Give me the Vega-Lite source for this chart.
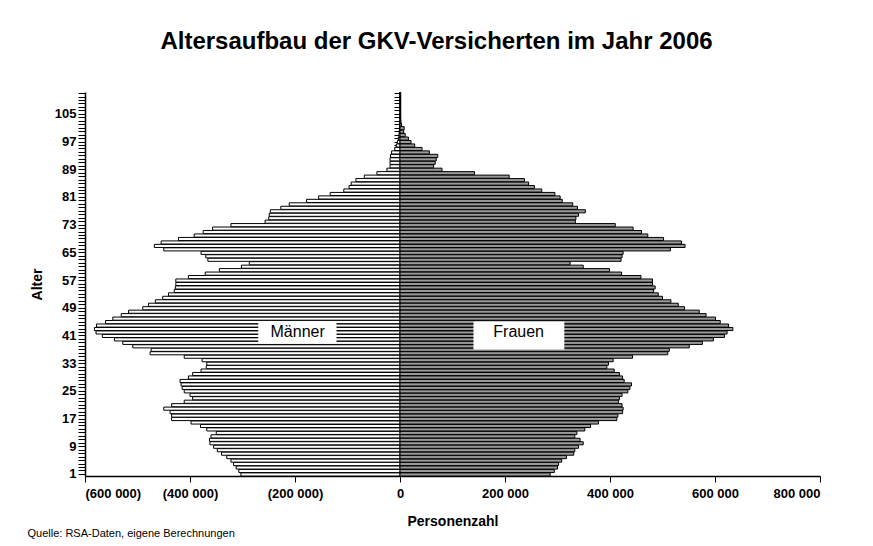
{
  "$schema": "https://vega.github.io/schema/vega-lite/v6.json",
  "width": 735,
  "height": 384,
  "autosize": {"type": "none"},
  "padding": {"left": 85, "top": 92, "right": 53, "bottom": 70},
  "background": "white",
  "title": {
    "text": "Altersaufbau der GKV-Versicherten im Jahr 2006",
    "font": "Liberation Sans",
    "fontSize": 24,
    "fontWeight": "bold",
    "color": "black",
    "anchor": "middle",
    "baseline": "alphabetic",
    "offset": 43,
    "dx": -16,
    "dy": 29
  },
  "config": {
    "view": {"stroke": null},
    "font": "Liberation Sans",
    "axis": {
      "labelFont": "Liberation Sans",
      "titleFont": "Liberation Sans",
      "labelColor": "black",
      "titleColor": "black",
      "domainColor": "black",
      "tickColor": "black",
      "grid": false
    }
  },
  "datasets": {
    "pop": [
      {"age": 1, "sex": "M", "value": -303000}, {"age": 2, "sex": "M", "value": -307000}, {"age": 3, "sex": "M", "value": -312000}, {"age": 4, "sex": "M", "value": -317000}, {"age": 5, "sex": "M", "value": -322000},
      {"age": 6, "sex": "M", "value": -330000}, {"age": 7, "sex": "M", "value": -340000}, {"age": 8, "sex": "M", "value": -348000}, {"age": 9, "sex": "M", "value": -355000}, {"age": 10, "sex": "M", "value": -362000},
      {"age": 11, "sex": "M", "value": -363000}, {"age": 12, "sex": "M", "value": -360000}, {"age": 13, "sex": "M", "value": -350000}, {"age": 14, "sex": "M", "value": -368000}, {"age": 15, "sex": "M", "value": -380000},
      {"age": 16, "sex": "M", "value": -398000}, {"age": 17, "sex": "M", "value": -435000}, {"age": 18, "sex": "M", "value": -435000}, {"age": 19, "sex": "M", "value": -438000}, {"age": 20, "sex": "M", "value": -450000},
      {"age": 21, "sex": "M", "value": -435000}, {"age": 22, "sex": "M", "value": -411000}, {"age": 23, "sex": "M", "value": -395000}, {"age": 24, "sex": "M", "value": -400000}, {"age": 25, "sex": "M", "value": -411000},
      {"age": 26, "sex": "M", "value": -415000}, {"age": 27, "sex": "M", "value": -417000}, {"age": 28, "sex": "M", "value": -419000}, {"age": 29, "sex": "M", "value": -403000}, {"age": 30, "sex": "M", "value": -395000},
      {"age": 31, "sex": "M", "value": -379000}, {"age": 32, "sex": "M", "value": -369000}, {"age": 33, "sex": "M", "value": -368000}, {"age": 34, "sex": "M", "value": -377000}, {"age": 35, "sex": "M", "value": -411000},
      {"age": 36, "sex": "M", "value": -476000}, {"age": 37, "sex": "M", "value": -474000}, {"age": 38, "sex": "M", "value": -509000}, {"age": 39, "sex": "M", "value": -528000}, {"age": 40, "sex": "M", "value": -544000},
      {"age": 41, "sex": "M", "value": -567000}, {"age": 42, "sex": "M", "value": -579000}, {"age": 43, "sex": "M", "value": -582000}, {"age": 44, "sex": "M", "value": -578000}, {"age": 45, "sex": "M", "value": -561000},
      {"age": 46, "sex": "M", "value": -547000}, {"age": 47, "sex": "M", "value": -531000}, {"age": 48, "sex": "M", "value": -517000}, {"age": 49, "sex": "M", "value": -490000}, {"age": 50, "sex": "M", "value": -479000},
      {"age": 51, "sex": "M", "value": -466000}, {"age": 52, "sex": "M", "value": -452000}, {"age": 53, "sex": "M", "value": -441000}, {"age": 54, "sex": "M", "value": -430000}, {"age": 55, "sex": "M", "value": -428000},
      {"age": 56, "sex": "M", "value": -427000}, {"age": 57, "sex": "M", "value": -427000}, {"age": 58, "sex": "M", "value": -403000}, {"age": 59, "sex": "M", "value": -371000}, {"age": 60, "sex": "M", "value": -344000},
      {"age": 61, "sex": "M", "value": -302000}, {"age": 62, "sex": "M", "value": -287000}, {"age": 63, "sex": "M", "value": -366000}, {"age": 64, "sex": "M", "value": -370000}, {"age": 65, "sex": "M", "value": -379000},
      {"age": 66, "sex": "M", "value": -450000}, {"age": 67, "sex": "M", "value": -468000}, {"age": 68, "sex": "M", "value": -455000}, {"age": 69, "sex": "M", "value": -422000}, {"age": 70, "sex": "M", "value": -392000},
      {"age": 71, "sex": "M", "value": -375000}, {"age": 72, "sex": "M", "value": -357000}, {"age": 73, "sex": "M", "value": -322000}, {"age": 74, "sex": "M", "value": -257000}, {"age": 75, "sex": "M", "value": -250000},
      {"age": 76, "sex": "M", "value": -249000}, {"age": 77, "sex": "M", "value": -247000}, {"age": 78, "sex": "M", "value": -227000}, {"age": 79, "sex": "M", "value": -211000}, {"age": 80, "sex": "M", "value": -178000},
      {"age": 81, "sex": "M", "value": -155000}, {"age": 82, "sex": "M", "value": -133000}, {"age": 83, "sex": "M", "value": -107000}, {"age": 84, "sex": "M", "value": -97000}, {"age": 85, "sex": "M", "value": -93000},
      {"age": 86, "sex": "M", "value": -84000}, {"age": 87, "sex": "M", "value": -68000}, {"age": 88, "sex": "M", "value": -44000}, {"age": 89, "sex": "M", "value": -25000}, {"age": 90, "sex": "M", "value": -19000},
      {"age": 91, "sex": "M", "value": -19000}, {"age": 92, "sex": "M", "value": -19000}, {"age": 93, "sex": "M", "value": -18000}, {"age": 94, "sex": "M", "value": -16000}, {"age": 95, "sex": "M", "value": -10000},
      {"age": 96, "sex": "M", "value": -7000}, {"age": 97, "sex": "M", "value": -5000}, {"age": 98, "sex": "M", "value": -3000}, {"age": 99, "sex": "M", "value": -2000}, {"age": 100, "sex": "M", "value": -1500},
      {"age": 101, "sex": "M", "value": -1000}, {"age": 102, "sex": "M", "value": -600}, {"age": 103, "sex": "M", "value": -400}, {"age": 104, "sex": "M", "value": -300}, {"age": 105, "sex": "M", "value": -200},
      {"age": 106, "sex": "M", "value": -100}, {"age": 107, "sex": "M", "value": -100}, {"age": 108, "sex": "M", "value": -50}, {"age": 109, "sex": "M", "value": -50}, {"age": 110, "sex": "M", "value": -20},
      {"age": 111, "sex": "M", "value": -20},
      {"age": 1, "sex": "F", "value": 286000}, {"age": 2, "sex": "F", "value": 294000}, {"age": 3, "sex": "F", "value": 300000}, {"age": 4, "sex": "F", "value": 302000}, {"age": 5, "sex": "F", "value": 308000},
      {"age": 6, "sex": "F", "value": 317000}, {"age": 7, "sex": "F", "value": 331000}, {"age": 8, "sex": "F", "value": 333000}, {"age": 9, "sex": "F", "value": 340000}, {"age": 10, "sex": "F", "value": 349000},
      {"age": 11, "sex": "F", "value": 343000}, {"age": 12, "sex": "F", "value": 333000}, {"age": 13, "sex": "F", "value": 337000}, {"age": 14, "sex": "F", "value": 352000}, {"age": 15, "sex": "F", "value": 363000},
      {"age": 16, "sex": "F", "value": 378000}, {"age": 17, "sex": "F", "value": 413000}, {"age": 18, "sex": "F", "value": 415000}, {"age": 19, "sex": "F", "value": 424000}, {"age": 20, "sex": "F", "value": 425000},
      {"age": 21, "sex": "F", "value": 423000}, {"age": 22, "sex": "F", "value": 416000}, {"age": 23, "sex": "F", "value": 418000}, {"age": 24, "sex": "F", "value": 423000}, {"age": 25, "sex": "F", "value": 434000},
      {"age": 26, "sex": "F", "value": 438000}, {"age": 27, "sex": "F", "value": 441000}, {"age": 28, "sex": "F", "value": 427000}, {"age": 29, "sex": "F", "value": 424000}, {"age": 30, "sex": "F", "value": 418000},
      {"age": 31, "sex": "F", "value": 408000}, {"age": 32, "sex": "F", "value": 394000}, {"age": 33, "sex": "F", "value": 397000}, {"age": 34, "sex": "F", "value": 406000}, {"age": 35, "sex": "F", "value": 443000},
      {"age": 36, "sex": "F", "value": 510000}, {"age": 37, "sex": "F", "value": 513000}, {"age": 38, "sex": "F", "value": 551000}, {"age": 39, "sex": "F", "value": 576000}, {"age": 40, "sex": "F", "value": 597000},
      {"age": 41, "sex": "F", "value": 618000}, {"age": 42, "sex": "F", "value": 623000}, {"age": 43, "sex": "F", "value": 634000}, {"age": 44, "sex": "F", "value": 626000}, {"age": 45, "sex": "F", "value": 610000},
      {"age": 46, "sex": "F", "value": 601000}, {"age": 47, "sex": "F", "value": 583000}, {"age": 48, "sex": "F", "value": 570000}, {"age": 49, "sex": "F", "value": 542000}, {"age": 50, "sex": "F", "value": 530000},
      {"age": 51, "sex": "F", "value": 516000}, {"age": 52, "sex": "F", "value": 500000}, {"age": 53, "sex": "F", "value": 492000}, {"age": 54, "sex": "F", "value": 483000}, {"age": 55, "sex": "F", "value": 486000},
      {"age": 56, "sex": "F", "value": 481000}, {"age": 57, "sex": "F", "value": 481000}, {"age": 58, "sex": "F", "value": 459000}, {"age": 59, "sex": "F", "value": 422000}, {"age": 60, "sex": "F", "value": 399000},
      {"age": 61, "sex": "F", "value": 349000}, {"age": 62, "sex": "F", "value": 324000}, {"age": 63, "sex": "F", "value": 421000}, {"age": 64, "sex": "F", "value": 423000}, {"age": 65, "sex": "F", "value": 425000},
      {"age": 66, "sex": "F", "value": 515000}, {"age": 67, "sex": "F", "value": 543000}, {"age": 68, "sex": "F", "value": 536000}, {"age": 69, "sex": "F", "value": 502000}, {"age": 70, "sex": "F", "value": 472000},
      {"age": 71, "sex": "F", "value": 460000}, {"age": 72, "sex": "F", "value": 444000}, {"age": 73, "sex": "F", "value": 410000}, {"age": 74, "sex": "F", "value": 334000}, {"age": 75, "sex": "F", "value": 335000},
      {"age": 76, "sex": "F", "value": 340000}, {"age": 77, "sex": "F", "value": 353000}, {"age": 78, "sex": "F", "value": 338000}, {"age": 79, "sex": "F", "value": 329000}, {"age": 80, "sex": "F", "value": 309000},
      {"age": 81, "sex": "F", "value": 305000}, {"age": 82, "sex": "F", "value": 295000}, {"age": 83, "sex": "F", "value": 270000}, {"age": 84, "sex": "F", "value": 256000}, {"age": 85, "sex": "F", "value": 245000},
      {"age": 86, "sex": "F", "value": 237000}, {"age": 87, "sex": "F", "value": 208000}, {"age": 88, "sex": "F", "value": 142000}, {"age": 89, "sex": "F", "value": 80000}, {"age": 90, "sex": "F", "value": 64000},
      {"age": 91, "sex": "F", "value": 67000}, {"age": 92, "sex": "F", "value": 69000}, {"age": 93, "sex": "F", "value": 72000}, {"age": 94, "sex": "F", "value": 56000}, {"age": 95, "sex": "F", "value": 42000},
      {"age": 96, "sex": "F", "value": 28000}, {"age": 97, "sex": "F", "value": 21000}, {"age": 98, "sex": "F", "value": 16000}, {"age": 99, "sex": "F", "value": 10000}, {"age": 100, "sex": "F", "value": 7000},
      {"age": 101, "sex": "F", "value": 8000}, {"age": 102, "sex": "F", "value": 3000}, {"age": 103, "sex": "F", "value": 1500}, {"age": 104, "sex": "F", "value": 800}, {"age": 105, "sex": "F", "value": 500},
      {"age": 106, "sex": "F", "value": 300}, {"age": 107, "sex": "F", "value": 200}, {"age": 108, "sex": "F", "value": 100}, {"age": 109, "sex": "F", "value": 50}, {"age": 110, "sex": "F", "value": 30},
      {"age": 111, "sex": "F", "value": 20}
    ],
    "notes": [
      {"label": "Männer", "age": 42, "from": -270000, "to": -121000, "mid": -195000},
      {"label": "Frauen", "age": 42, "from": 140000, "to": 313000, "mid": 226000}
    ]
  },
  "resolve": {"axis": {"x": "independent", "y": "independent"}},
  "layer": [
    {
      "data": {"name": "pop"},
      "transform": [{"filter": "datum.sex === 'M'"}],
      "mark": {"type": "bar", "fill": "white", "stroke": "black", "strokeWidth": 1},
      "encoding": {
        "y": {
          "field": "age", "type": "ordinal", "sort": "descending",
          "scale": {"paddingInner": 0.1, "paddingOuter": 0},
          "axis": {
            "orient": "left",
            "title": "Alter",
            "titleFontSize": 14, "titleFontWeight": "bold",
            "titleX": -48, "titleY": 192, "titleAngle": -90,
            "titleAlign": "center", "titleBaseline": "middle",
            "labelFontSize": 13, "labelFontWeight": "bold",
            "labelExpr": "(datum.value - 1) % 8 === 0 ? datum.label : ''",
            "labelOverlap": false,
            "labelPadding": 2,
            "tickSize": 7, "tickWidth": 1,
            "domainWidth": 1.5
          }
        },
        "x": {
          "field": "value", "type": "quantitative",
          "scale": {"domain": [-600000, 800000], "nice": false, "zero": false},
          "axis": {
            "orient": "bottom",
            "values": [-600000, -400000, -200000, 0, 200000, 400000, 600000, 800000],
            "labelExpr": "datum.value < 0 ? '(' + replace(format(-datum.value, ','), ',', ' ') + ')' : replace(format(datum.value, ','), ',', ' ')",
            "labelFontSize": 13, "labelFontWeight": "bold",
            "labelPadding": 5,
            "tickSize": 6, "tickWidth": 1, "domainWidth": 1.5,
            "title": "Personenzahl",
            "titleFontSize": 14, "titleFontWeight": "bold",
            "titleX": 367.5, "titleY": 45, "titleBaseline": "middle", "titleAlign": "center"
          }
        }
      }
    },
    {
      "data": {"name": "pop"},
      "transform": [{"filter": "datum.sex === 'F'"}],
      "mark": {"type": "bar", "fill": "#999999", "stroke": "black", "strokeWidth": 1},
      "encoding": {
        "y": {
          "field": "age", "type": "ordinal", "sort": "descending",
          "axis": {
            "orient": "left",
            "offset": -315,
            "labels": false,
            "title": null,
            "tickSize": 6, "tickWidth": 1,
            "domainWidth": 1.5
          }
        },
        "x": {
          "field": "value", "type": "quantitative",
          "axis": {
            "orient": "bottom",
            "labels": false, "ticks": false, "domain": false,
            "title": "Quelle: RSA-Daten, eigene Berechnungen",
            "titleFontSize": 11, "titleFontWeight": "normal",
            "titleX": -58, "titleY": 60.5,
            "titleAlign": "left", "titleBaseline": "alphabetic"
          }
        }
      }
    },
    {
      "data": {"name": "notes"},
      "transform": [{"filter": "datum.label === 'Männer'"}],
      "mark": {"type": "bar", "fill": "white", "stroke": null, "height": 22},
      "encoding": {
        "y": {"field": "age", "type": "ordinal", "sort": "descending", "axis": null},
        "x": {"field": "from", "type": "quantitative", "axis": null},
        "x2": {"field": "to"}
      }
    },
    {
      "data": {"name": "notes"},
      "transform": [{"filter": "datum.label === 'Frauen'"}],
      "mark": {"type": "bar", "fill": "white", "stroke": null, "height": 28, "yOffset": 3},
      "encoding": {
        "y": {"field": "age", "type": "ordinal", "sort": "descending", "axis": null},
        "x": {"field": "from", "type": "quantitative", "axis": null},
        "x2": {"field": "to"}
      }
    },
    {
      "data": {"name": "notes"},
      "mark": {"type": "text", "font": "Liberation Sans", "fontSize": 16, "color": "black", "align": "center", "baseline": "middle"},
      "encoding": {
        "y": {"field": "age", "type": "ordinal", "sort": "descending", "axis": null},
        "x": {"field": "mid", "type": "quantitative", "axis": null},
        "text": {"field": "label"}
      }
    }
  ]
}
